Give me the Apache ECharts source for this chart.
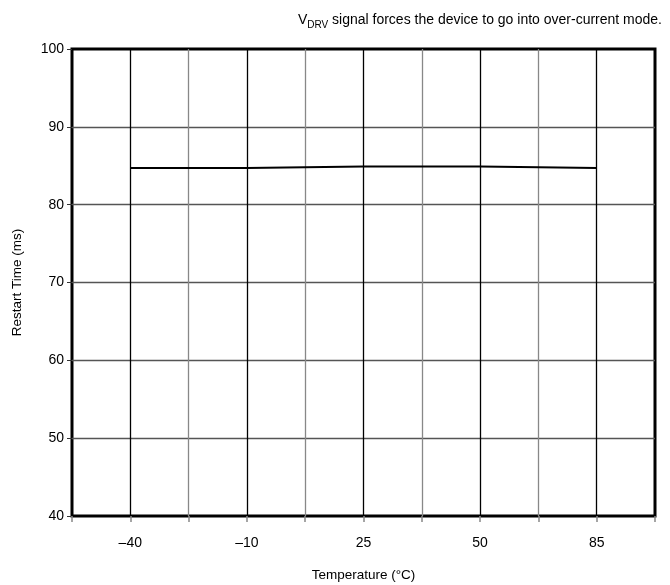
<!DOCTYPE html>
<html><head><meta charset="utf-8">
<script src="https://cdn.jsdelivr.net/npm/echarts@6/dist/echarts.min.js"></script>
<style>html,body{margin:0;padding:0;background:#fff}#c{width:670px;height:585px}</style>
</head><body><div id="c"></div>
<script>
const temperatures = ['–40', '–10', '25', '50', '85'];
const restartTime = [84.7, 84.7, 84.9, 84.9, 84.7];
const yTicks = [40, 50, 60, 70, 80, 90, 100];

const FONT = 'Liberation Sans, Arial, sans-serif';
const labelAt = {};
temperatures.forEach((t, i) => { labelAt[2 * i + 1] = t; });
const seriesData = restartTime.map((v, i) => [2 * i + 1, v]);

const chart = echarts.init(document.getElementById('c'));
chart.setOption({
  animation: false,
  title: {
    text: '{v|V}{s|DRV}{t| signal forces the device to go into over-current mode.}',
    right: 3, top: 6,
    textStyle: {
      rich: {
        v: {fontFamily: FONT, fontSize: 14, fontWeight: 'normal', color: '#000', lineHeight: 19},
        s: {fontFamily: FONT, fontSize: 10, fontWeight: 'normal', color: '#000', verticalAlign: 'bottom', lineHeight: 19, padding: [7, 0, 0, 0]},
        t: {fontFamily: FONT, fontSize: 14, fontWeight: 'normal', color: '#000', lineHeight: 19}
      }
    }
  },
  grid: {left: 72, right: 15, top: 49, bottom: 69, outerBoundsMode: 'none', containLabel: false,
    show: true, borderColor: '#000', borderWidth: 3, backgroundColor: 'transparent'},
  xAxis: {
    type: 'value', min: 0, max: 10, interval: 1,
    name: 'Temperature (°C)', nameLocation: 'middle', nameGap: 52,
    nameTextStyle: {fontFamily: FONT, fontSize: 13.5, color: '#000'},
    axisLine: {show: false},
    axisTick: {show: true, length: 6, lineStyle: {color: '#888', width: 1.5}},
    axisLabel: {fontFamily: FONT, fontSize: 14, color: '#000', margin: 20,
      formatter: v => labelAt[v] !== undefined ? labelAt[v] : ''},
    splitLine: {show: true, showMinLine: false, showMaxLine: false, lineStyle: {color: ['#000', '#888'], width: 1.3}}
  },
  yAxis: {
    type: 'value', min: yTicks[0], max: yTicks[yTicks.length - 1], interval: 10,
    name: 'Restart Time (ms)', nameLocation: 'middle', nameGap: 48,
    nameTextStyle: {fontFamily: FONT, fontSize: 13.5, color: '#000'},
    axisLine: {show: false},
    axisTick: {show: true, length: 5, lineStyle: {color: '#333', width: 1}},
    axisLabel: {fontFamily: FONT, fontSize: 14, color: '#000', margin: 8},
    splitLine: {show: true, showMinLine: false, showMaxLine: false, lineStyle: {color: '#555', width: 1.3}}
  },
  series: [{
    type: 'line', data: seriesData, symbol: 'none',
    lineStyle: {color: '#000', width: 2}
  }]
});
</script></body></html>
